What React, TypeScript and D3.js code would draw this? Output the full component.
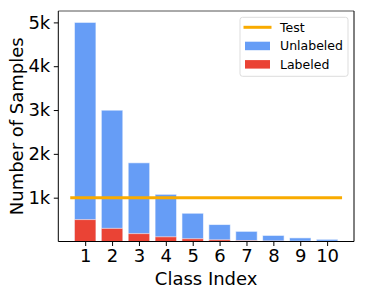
import { useEffect, useRef } from "react";
import * as d3 from "d3";

const classes = [1, 2, 3, 4, 5, 6, 7, 8, 9, 10];
const unlabeled = [5000, 2997, 1796, 1077, 645, 387, 232, 139, 83, 50];
const labeled = [500, 300, 180, 108, 64, 39, 23, 14, 8, 5];
const testCount = 1000;
const yTicks = [1000, 2000, 3000, 4000, 5000];
const yTickLabels = ["1k", "2k", "3k", "4k", "5k"];

const BLUE = "#669DF6";
const RED = "#EA4335";
const ORANGE = "#F9AB00";
const FONT = "DejaVu Sans, sans-serif";

export default function App() {
  const ref = useRef<SVGSVGElement | null>(null);

  useEffect(() => {
    const width = 366;
    const height = 296;
    const margin = { top: 11, right: 12, bottom: 54.5, left: 58.3 };

    const svg = d3.select(ref.current);
    svg.selectAll("*").remove();
    svg.attr("viewBox", `0 0 ${width} ${height}`);

    const x = d3
      .scaleLinear()
      .domain([0, 11])
      .range([margin.left, width - margin.right]);

    const y = d3
      .scaleLinear()
      .domain([0, 5260])
      .range([height - margin.bottom, margin.top]);

    const bw = (x(1) - x(0)) * 0.8;

    const bars = svg.append("g");
    bars
      .selectAll("rect.unl")
      .data(classes)
      .join("rect")
      .attr("class", "unl")
      .attr("x", (d) => x(d) - bw / 2)
      .attr("y", (d, i) => y(unlabeled[i]))
      .attr("width", bw)
      .attr("height", (d, i) => y(0) - y(unlabeled[i]))
      .attr("fill", BLUE)
      .attr("stroke", "white")
      .attr("stroke-opacity", 0.6)
      .attr("stroke-width", 1);

    bars
      .selectAll("rect.lab")
      .data(classes)
      .join("rect")
      .attr("class", "lab")
      .attr("x", (d) => x(d) - bw / 2)
      .attr("y", (d, i) => y(labeled[i]))
      .attr("width", bw)
      .attr("height", (d, i) => y(0) - y(labeled[i]))
      .attr("fill", RED)
      .attr("stroke", "white")
      .attr("stroke-opacity", 0.6)
      .attr("stroke-width", 1);

    svg
      .append("line")
      .attr("x1", x(0.5))
      .attr("x2", x(10.5))
      .attr("y1", y(testCount))
      .attr("y2", y(testCount))
      .attr("stroke", ORANGE)
      .attr("stroke-width", 3)
      .attr("stroke-linecap", "square");

    // axes
    const xAxis = svg
      .append("g")
      .attr("transform", `translate(0,${y(0)})`)
      .call(d3.axisBottom(x).tickValues(classes).tickSize(4.5).tickPadding(3.5).tickSizeOuter(0));
    xAxis.select(".domain").remove();
    xAxis
      .selectAll("text")
      .attr("font-family", FONT)
      .attr("font-size", 18)
      .attr("fill", "#000");

    const yAxis = svg
      .append("g")
      .attr("transform", `translate(${x(0)},0)`)
      .call(
        d3
          .axisLeft(y)
          .tickValues(yTicks)
          .tickFormat((d, i) => yTickLabels[i])
          .tickSize(4.5)
          .tickPadding(3.5)
          .tickSizeOuter(0),
      );
    yAxis.select(".domain").remove();
    yAxis
      .selectAll("text")
      .attr("font-family", FONT)
      .attr("font-size", 18)
      .attr("fill", "#000");

    // frame
    svg
      .append("line")
      .attr("x1", x(0))
      .attr("x2", x(11))
      .attr("y1", y(5260))
      .attr("y2", y(5260))
      .attr("stroke", "#555");
    svg
      .append("line")
      .attr("x1", x(0))
      .attr("x2", x(11))
      .attr("y1", y(0))
      .attr("y2", y(0))
      .attr("stroke", "#000");
    svg
      .append("line")
      .attr("x1", x(0))
      .attr("x2", x(0))
      .attr("y1", y(0))
      .attr("y2", y(5260))
      .attr("stroke", "#000");
    svg
      .append("line")
      .attr("x1", x(11))
      .attr("x2", x(11))
      .attr("y1", y(0))
      .attr("y2", y(5260))
      .attr("stroke", "#000");

    svg
      .append("text")
      .attr("x", (x(0) + x(11)) / 2)
      .attr("y", 284.5)
      .attr("text-anchor", "middle")
      .attr("font-family", FONT)
      .attr("font-size", 18)
      .text("Class Index");

    svg
      .append("text")
      .attr("transform", `translate(23,${(y(0) + y(5260)) / 2}) rotate(-90)`)
      .attr("text-anchor", "middle")
      .attr("font-family", FONT)
      .attr("font-size", 18)
      .text("Number of Samples");

    // legend
    const lg = svg.append("g").attr("transform", "translate(240,17.3)");
    lg.append("rect")
      .attr("width", 108)
      .attr("height", 59)
      .attr("rx", 2.5)
      .attr("fill", "white")
      .attr("fill-opacity", 0.8)
      .attr("stroke", "#ddd")
      .attr("stroke-width", 1);

    const items = [
      { label: "Test", kind: "line", color: ORANGE },
      { label: "Unlabeled", kind: "rect", color: BLUE },
      { label: "Labeled", kind: "rect", color: RED },
    ];
    items.forEach((it, i) => {
      const cy = 10 + i * 18.4;
      if (it.kind === "line") {
        lg.append("line")
          .attr("x1", 3.5)
          .attr("x2", 31.5)
          .attr("y1", cy)
          .attr("y2", cy)
          .attr("stroke", it.color)
          .attr("stroke-width", 3);
      } else {
        lg.append("rect")
          .attr("x", 5)
          .attr("y", cy - 4)
          .attr("width", 25)
          .attr("height", 8.5)
          .attr("fill", it.color);
      }
      lg.append("text")
        .attr("x", 40)
        .attr("y", cy + 4.7)
        .attr("font-family", FONT)
        .attr("font-size", 12.5)
        .text(it.label);
    });
  }, []);

  return (
    <svg
      ref={ref}
      width={366}
      height={296}
      style={{ position: "absolute", left: 0, top: 0, background: "white" }}
    />
  );
}
